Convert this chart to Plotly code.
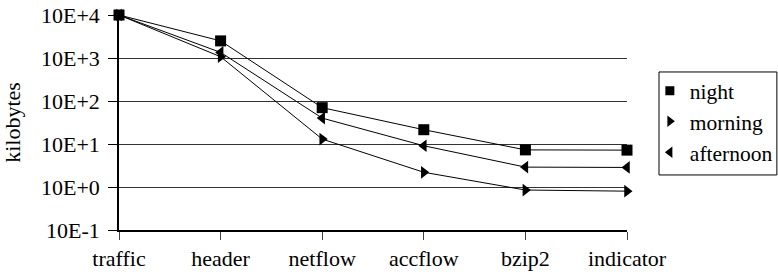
import plotly.graph_objects as go

categories = ["traffic", "header", "netflow", "accflow", "bzip2", "indicator"]
night = [10000, 2500, 70, 21.5, 7.3, 7.2]
morning = [10000, 1070, 13, 2.2, 0.85, 0.8]
afternoon = [10000, 1350, 40, 9.1, 2.9, 2.85]
tick_vals = [0.1, 1, 10, 100, 1000, 10000]
tick_text = ["10E-1", "10E+0", "10E+1", "10E+2", "10E+3", "10E+4"]

FONT = "Liberation Serif, DejaVu Serif"
FS = 22

fig = go.Figure()
series = [
    ("night", night, "square", "legend", 0.647, 9),
    ("morning", morning, "triangle-right", "legend2", 0.506, 10),
    ("afternoon", afternoon, "triangle-left", "legend3", 0.362, 10),
]
for name, vals, sym, leg, ly, lsz in series:
    fig.add_trace(go.Scatter(
        x=categories, y=vals, name=name, mode="lines+markers",
        line=dict(color="black", width=1),
        marker=dict(symbol=sym, size=11, color="black"),
        cliponaxis=False, showlegend=False,
    ))
    fig.add_trace(go.Scatter(
        x=[None], y=[None], name=name, mode="markers",
        marker=dict(symbol=sym, size=lsz, color="black"),
        showlegend=True, legend=leg,
    ))

legend_common = dict(
    xanchor="left", yanchor="middle", x=1.045,
    bgcolor="rgba(0,0,0,0)", borderwidth=0,
    font=dict(family=FONT, size=21.5, color="black"),
)
fig.update_layout(
    width=778, height=276,
    margin=dict(l=119, r=151, t=15, b=46, autoexpand=False),
    paper_bgcolor="white", plot_bgcolor="white",
    font=dict(family=FONT, size=FS, color="black"),
    legend=dict(legend_common, y=0.647),
    legend2=dict(legend_common, y=0.506),
    legend3=dict(legend_common, y=0.362),
    shapes=[dict(
        type="rect", xref="paper", yref="paper",
        x0=1.063, x1=1.295, y0=0.256, y1=0.735,
        line=dict(color="black", width=1), fillcolor="rgba(0,0,0,0)",
        layer="below",
    )],
)
fig.update_xaxes(
    type="category", range=[0, 5],
    showline=True, linecolor="black", linewidth=2,
    ticks="outside", ticklen=8, tickcolor="#444",
    showgrid=False, zeroline=False, automargin=False,
    tickfont=dict(family=FONT, size=FS, color="black"),
)
fig.update_yaxes(
    type="log", range=[-1, 4],
    tickvals=tick_vals, ticktext=tick_text,
    showline=True, linecolor="black", linewidth=1.5,
    ticks="outside", ticklen=9, tickcolor="black",
    ticklabelstandoff=4,
    showgrid=True, gridcolor="#333", gridwidth=1,
    zeroline=False, automargin=False,
    title=dict(text="kilobytes", standoff=14,
               font=dict(family=FONT, size=FS, color="black")),
    tickfont=dict(family=FONT, size=FS, color="black"),
)

fig.write_html("out.html", config={"displayModeBar": False},
               post_script="document.body.style.margin='0';")
